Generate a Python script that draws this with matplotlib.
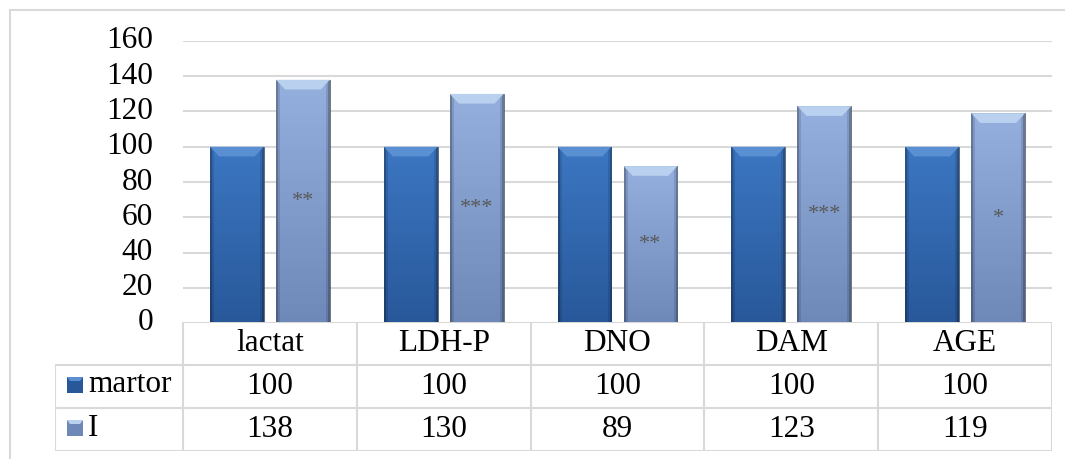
import numpy as np
import matplotlib
matplotlib.use("Agg")
import matplotlib.pyplot as plt
from matplotlib.colors import LinearSegmentedColormap
from matplotlib.lines import Line2D

# --- Data ---

categories = ["lactat", "LDH-P", "DNO", "DAM", "AGE"]
series_names = ["martor", "I"]
martor = [100, 100, 100, 100, 100]
group_i = [138, 130, 89, 123, 119]
signif = ["**", "***", "**", "***", "*"]

# --- Styling ---

plt.rcParams["font.family"] = ["Liberation Serif", "DejaVu Serif"]
FS = 22.5
GRID = "#D9D9D9"

# (top, bottom, bevel highlight) colours per series
palettes = [
    ("#3C77C2", "#28589A", "#5A8FD2"),
    ("#95B0DE", "#6E89B8", "#B9D0EE"),
]

W, H = 1065, 459
fig = plt.figure(figsize=(W / 100, H / 100), dpi=100)

def fig_box(x0, y0, x1, y1):
    return [x0 / W, 1 - y1 / H, (x1 - x0) / W, (y1 - y0) / H]

# chart frame (left and top edges)
frame = fig.add_axes([0, 0, 1, 1], zorder=-5)
frame.set_xlim(0, W)
frame.set_ylim(H, 0)
frame.axis("off")
frame.add_line(Line2D([10, 10], [10, H], color=GRID, lw=1.5))
frame.add_line(Line2D([10, W], [10, 10], color=GRID, lw=1.5))

# --- Bar chart ---

ax = fig.add_axes(fig_box(183, 41, 1052, 323))
x = np.arange(len(categories))
width = 0.31
offsets = [-0.19, 0.19]

edge_cmap = LinearSegmentedColormap.from_list("s", [(0, 0, 0, 0), (0, 0, 0, 0.3)])


def shade_bar(ax, rect, pal):
    # vertical gradient clipped to the bar, darker side bevels, light top bevel
    top, bottom, hi = pal
    cmap = LinearSegmentedColormap.from_list("g", [bottom, top])
    x0, y0 = rect.get_x(), rect.get_y()
    w, h = rect.get_width(), rect.get_height()
    grad = np.linspace(0, 1, 256).reshape(-1, 1)
    im = ax.imshow(grad, cmap=cmap, origin="lower", aspect="auto",
                   extent=[x0, x0 + w, y0, y0 + h], zorder=2)
    im.set_clip_path(rect)
    side = np.zeros((2, 27))
    side[:, 0] = 1.0
    side[:, -1] = 1.0
    side[:, 1] = 0.4
    side[:, -2] = 0.4
    sh = ax.imshow(side, cmap=edge_cmap, vmin=0, vmax=1, aspect="auto",
                   extent=[x0, x0 + w, y0, y0 + h], interpolation="nearest",
                   zorder=2.5)
    sh.set_clip_path(rect)
    bev = 5.5
    dx = w * 0.17
    ax.fill([x0, x0 + w, x0 + w - dx, x0 + dx],
            [y0 + h, y0 + h, y0 + h - bev, y0 + h - bev],
            color=hi, zorder=3, lw=0)


for k, vals in enumerate([martor, group_i]):
    bars = ax.bar(x + offsets[k], vals, width, color=palettes[k][1],
                  edgecolor="#404040", linewidth=0.4, zorder=2)
    for b in bars:
        shade_bar(ax, b, palettes[k])

# significance marks centred inside the "I" bars
for xi, v, s in zip(x + offsets[1], group_i, signif):
    ax.text(xi, v / 2, s, ha="center", va="center", fontsize=16,
            color="#595959", zorder=4)

ax.set_xlim(-0.5, len(categories) - 0.5)
ax.set_ylim(0, 160)
ax.set_yticks(range(0, 161, 20))
ax.set_xticks([])
ax.tick_params(axis="y", length=0, pad=21.6, labelsize=FS)
for t in ax.get_yticklabels():
    t.set_verticalalignment("center")
ax.yaxis.grid(True, color=GRID, lw=1.5, zorder=0)
ax.set_axisbelow(True)
for sp in ax.spines.values():
    sp.set_visible(False)

# --- Data table under the chart ---

leg_w = 128 / 173.8
tab = fig.add_axes(fig_box(55, 322, 1052, 451))
tab.set_xlim(-0.5 - leg_w, len(categories) - 0.5)
tab.set_ylim(3, 0)
tab.axis("off")

lkw = dict(color=GRID, lw=1.5, solid_capstyle="butt")
left = -0.5 - leg_w
right = len(categories) - 0.5
tab.plot([-0.5, right], [0, 0], **lkw)
for r in (1, 2, 3):
    tab.plot([left, right], [r, r], **lkw)
tab.plot([left, left], [1, 3], **lkw)
for c in range(len(categories) + 1):
    tab.plot([c - 0.5, c - 0.5], [0, 3], **lkw)

for c, name in enumerate(categories):
    tab.text(c, 0.5, name, ha="center", va="center", fontsize=FS)
for r, vals in enumerate([martor, group_i], start=1):
    for c, v in enumerate(vals):
        tab.text(c, r + 0.5, str(v), ha="center", va="center", fontsize=FS)

# legend keys and series names in the first column
key = fig.add_axes([0, 0, 1, 1], zorder=5)
key.set_xlim(0, W)
key.set_ylim(H, 0)
key.axis("off")
for r, name in enumerate(series_names):
    cy = 385 + r * 43
    top, bottom, hi = palettes[r]
    key.add_patch(plt.Rectangle((67, cy - 8), 16, 16, color=bottom, lw=0))
    key.fill([67, 83, 80, 70], [cy - 8, cy - 8, cy - 4, cy - 4], color=hi, lw=0)
    key.text(88, cy, name, ha="left", va="center", fontsize=FS)

fig.savefig("out.png", dpi=100)
